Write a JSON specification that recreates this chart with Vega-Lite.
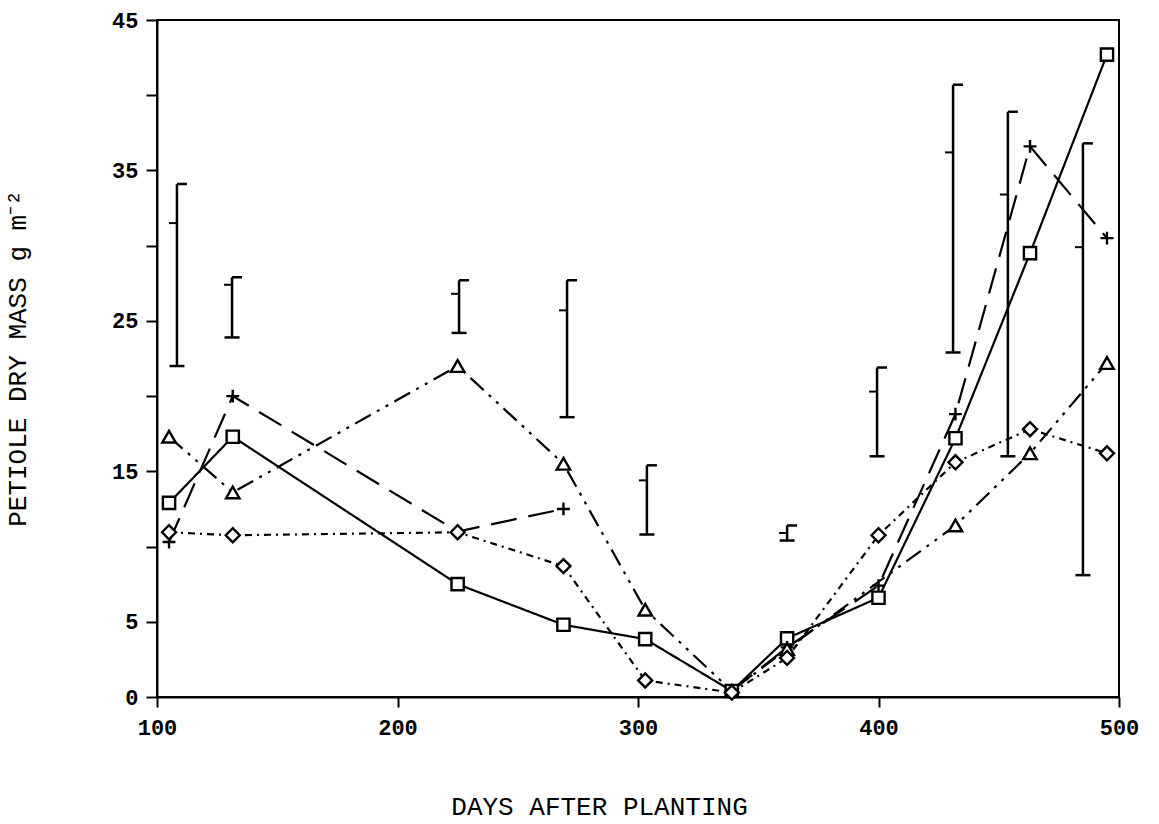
{
  "$schema": "https://vega.github.io/schema/vega-lite/v6.json",
  "width": 962,
  "height": 677,
  "autosize": {"type": "none"},
  "padding": {"left": 157, "top": 20, "right": 40, "bottom": 127},
  "background": "white",
  "config": {
    "view": {"stroke": "black", "strokeWidth": 2},
    "axis": {
      "domainColor": "black", "domainWidth": 2, "tickColor": "black", "tickWidth": 2,
      "labelColor": "black", "titleColor": "black", "grid": false,
      "labelFont": "Liberation Mono", "titleFont": "Liberation Mono",
      "labelFlush": false, "labelOverlap": false, "labelFontWeight": "bold"
    }
  },
  "datasets": {
    "series": [
      {"series": "square", "day": 105, "mass": 12.9},
      {"series": "square", "day": 131.5, "mass": 17.3},
      {"series": "square", "day": 225, "mass": 7.5},
      {"series": "square", "day": 269, "mass": 4.8},
      {"series": "square", "day": 303, "mass": 3.85},
      {"series": "square", "day": 339, "mass": 0.4},
      {"series": "square", "day": 362, "mass": 3.9},
      {"series": "square", "day": 400, "mass": 6.6},
      {"series": "square", "day": 432, "mass": 17.2},
      {"series": "square", "day": 463, "mass": 29.5},
      {"series": "square", "day": 495, "mass": 42.7},
      {"series": "plus", "day": 105, "mass": 10.3},
      {"series": "plus", "day": 131.5, "mass": 20.0},
      {"series": "plus", "day": 225, "mass": 11.0},
      {"series": "plus", "day": 269, "mass": 12.5},
      {"series": "plus", "day": 303, "mass": null},
      {"series": "plus", "day": 339, "mass": 0.4},
      {"series": "plus", "day": 362, "mass": 3.3},
      {"series": "plus", "day": 400, "mass": 7.4},
      {"series": "plus", "day": 432, "mass": 18.8},
      {"series": "plus", "day": 463, "mass": 36.6},
      {"series": "plus", "day": 495, "mass": 30.5},
      {"series": "triangle", "day": 105, "mass": 17.3},
      {"series": "triangle", "day": 131.5, "mass": 13.6},
      {"series": "triangle", "day": 225, "mass": 22.0},
      {"series": "triangle", "day": 269, "mass": 15.5},
      {"series": "triangle", "day": 303, "mass": 5.8},
      {"series": "triangle", "day": 339, "mass": 0.4},
      {"series": "triangle", "day": 362, "mass": 3.2},
      {"series": "triangle", "day": 432, "mass": 11.4},
      {"series": "triangle", "day": 463, "mass": 16.2},
      {"series": "triangle", "day": 495, "mass": 22.2},
      {"series": "diamond", "day": 105, "mass": 10.95},
      {"series": "diamond", "day": 131.5, "mass": 10.75},
      {"series": "diamond", "day": 225, "mass": 10.95},
      {"series": "diamond", "day": 269, "mass": 8.7},
      {"series": "diamond", "day": 303, "mass": 1.1},
      {"series": "diamond", "day": 339, "mass": 0.3},
      {"series": "diamond", "day": 362, "mass": 2.6},
      {"series": "diamond", "day": 400, "mass": 10.75},
      {"series": "diamond", "day": 432, "mass": 15.6},
      {"series": "diamond", "day": 463, "mass": 17.8},
      {"series": "diamond", "day": 495, "mass": 16.2}
    ],
    "bars": [
      {"day": 108.3, "lo": 22.0, "mid": 31.5, "hi": 34.1},
      {"day": 131.2, "lo": 23.9, "mid": 27.4, "hi": 27.9},
      {"day": 225.6, "lo": 24.2, "mid": 26.8, "hi": 27.7},
      {"day": 270.5, "lo": 18.6, "mid": 25.7, "hi": 27.7},
      {"day": 303.7, "lo": 10.8, "mid": 14.4, "hi": 15.4},
      {"day": 362, "lo": 10.4, "mid": 10.9, "hi": 11.4},
      {"day": 399.4, "lo": 16.0, "mid": 20.3, "hi": 21.9},
      {"day": 431, "lo": 22.9, "mid": 36.2, "hi": 40.7},
      {"day": 453.8, "lo": 16.0, "mid": 33.4, "hi": 38.9},
      {"day": 485, "lo": 8.1, "mid": 29.9, "hi": 36.8}
    ]
  },
  "layer": [
    {
      "data": {"name": "bars"},
      "mark": {"type": "rule", "color": "black", "strokeWidth": 2.5},
      "encoding": {
        "x": {"field": "day", "type": "quantitative", "title": "DAYS AFTER PLANTING",
          "scale": {"domain": [100, 500], "nice": false, "zero": false},
          "axis": {"values": [100, 200, 300, 400, 500], "labelFontSize": 22, "tickSize": 10, "labelPadding": 10,
            "titleFontSize": 26, "titleFontWeight": "normal", "titleX": 442, "titleY": 96, "titleAlign": "center", "titleBaseline": "top"}},
        "y": {"field": "lo", "type": "quantitative", "title": "PETIOLE DRY MASS g m⁻²",
          "scale": {"domain": [0, 45], "nice": false},
          "axis": {"values": [0, 5, 10, 15, 20, 25, 30, 35, 40, 45],
            "labelExpr": "(datum.value == 10 || datum.value == 20 || datum.value == 30 || datum.value == 40) ? '' : datum.label",
            "labelFontSize": 22, "tickSize": 11, "labelPadding": 8,
            "titleFontSize": 26, "titleFontWeight": "normal", "titleX": -140, "titleY": 338, "titleAngle": 270,
            "titleAlign": "center", "titleBaseline": "middle"}},
        "y2": {"field": "hi"}
      }
    },
    {
      "data": {"name": "bars"},
      "mark": {"type": "tick", "orient": "horizontal", "size": 10, "thickness": 2.5, "xOffset": 5, "color": "black", "opacity": 1},
      "encoding": {
        "x": {"field": "day", "type": "quantitative", "title": "DAYS AFTER PLANTING"},
        "y": {"field": "hi", "type": "quantitative", "title": "PETIOLE DRY MASS g m⁻²"}
      }
    },
    {
      "data": {"name": "bars"},
      "mark": {"type": "tick", "orient": "horizontal", "size": 15, "thickness": 2.5, "color": "black", "opacity": 1},
      "encoding": {
        "x": {"field": "day", "type": "quantitative", "title": "DAYS AFTER PLANTING"},
        "y": {"field": "lo", "type": "quantitative", "title": "PETIOLE DRY MASS g m⁻²"}
      }
    },
    {
      "data": {"name": "bars"},
      "mark": {"type": "tick", "orient": "horizontal", "size": 8, "thickness": 2, "xOffset": -4, "color": "black", "opacity": 1},
      "encoding": {
        "x": {"field": "day", "type": "quantitative", "title": "DAYS AFTER PLANTING"},
        "y": {"field": "mid", "type": "quantitative", "title": "PETIOLE DRY MASS g m⁻²"}
      }
    },
    {
      "data": {"name": "series"},
      "mark": {"type": "line", "color": "black", "strokeWidth": 2.2, "invalid": "break-paths-filter-domains"},
      "encoding": {
        "x": {"field": "day", "type": "quantitative", "title": "DAYS AFTER PLANTING"},
        "y": {"field": "mass", "type": "quantitative", "title": "PETIOLE DRY MASS g m⁻²"},
        "detail": {"field": "series", "type": "nominal"},
        "strokeDash": {"field": "series", "type": "nominal", "legend": null,
          "scale": {"domain": ["square", "plus", "triangle", "diamond"],
            "range": [[1, 0], [26, 12], [18, 7, 3, 7, 3, 7], [7, 5, 2, 5]]}}
      }
    },
    {
      "data": {"name": "series"},
      "mark": {"type": "point", "filled": true, "fill": "white", "stroke": "black", "strokeWidth": 2.4, "opacity": 1, "fillOpacity": 1, "strokeOpacity": 1},
      "encoding": {
        "x": {"field": "day", "type": "quantitative", "title": "DAYS AFTER PLANTING"},
        "y": {"field": "mass", "type": "quantitative", "title": "PETIOLE DRY MASS g m⁻²"},
        "shape": {"field": "series", "type": "nominal", "legend": null,
          "scale": {"domain": ["square", "plus", "triangle", "diamond"],
            "range": ["square", "M-1,0L1,0M0,-1L0,1", "triangle-up", "diamond"]}},
        "size": {"field": "series", "type": "nominal", "legend": null,
          "scale": {"domain": ["square", "plus", "triangle", "diamond"], "range": [150, 196, 100, 110]}}
      }
    }
  ]
}
